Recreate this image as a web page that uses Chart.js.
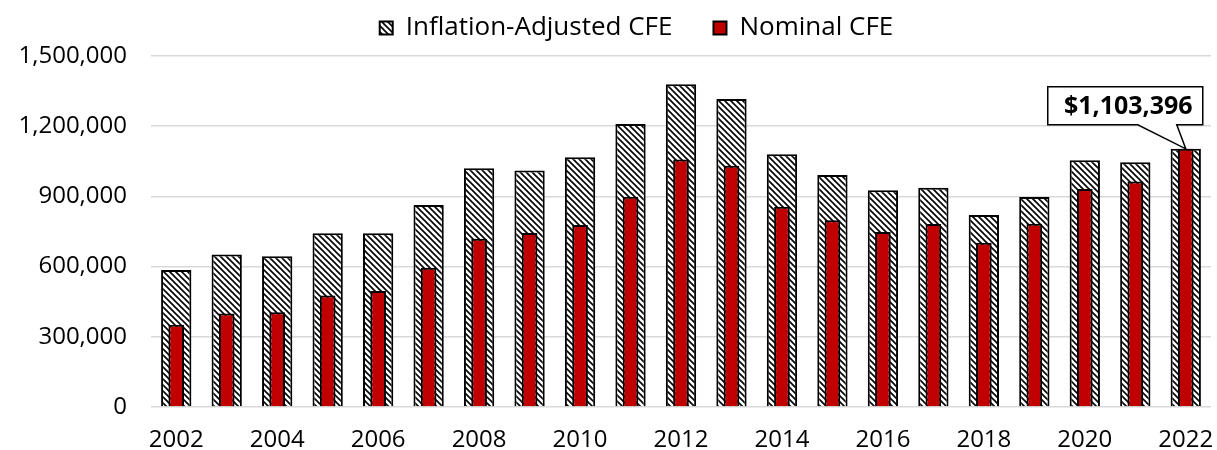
<!DOCTYPE html>
<html>
<head>
<meta charset="utf-8">
<script src="https://cdn.jsdelivr.net/npm/chart.js@4.4.1/dist/chart.umd.min.js"></script>
<style>
  html, body { margin: 0; padding: 0; background: #fff; }
  #wrap { width: 1217px; height: 450px; }
</style>
</head>
<body>
<div id="wrap"><canvas id="cfe" width="1217" height="450"></canvas></div>
<script>
const years = ['2002','2003','2004','2005','2006','2007','2008','2009','2010','2011','2012',
  '2013','2014','2015','2016','2017','2018','2019','2020','2021','2022'];
const adjustedCfe = [585000, 652000, 644000, 742000, 742000, 863000, 1020000, 1011000, 1067000, 1209000, 1379000,
  1316000, 1080000, 991000, 926000, 937000, 820000, 897000, 1054000, 1046000, 1103396];
const nominalCfe = [351000, 400000, 405000, 477000, 496000, 595000, 719000, 744000, 778000, 899000, 1058000,
  1031000, 856000, 798000, 748000, 782000, 702000, 783000, 932000, 964000, 1103396];
const yTicks = [0, 300000, 600000, 900000, 1200000, 1500000];

const FONT = "'Open Sans', 'DejaVu Sans', sans-serif";

// excel-ish "wide downward diagonal" fill
function hatch() {
  const n = 6;
  const c = document.createElement('canvas');
  c.width = n; c.height = n;
  const g = c.getContext('2d');
  g.fillStyle = '#fff';
  g.fillRect(0, 0, n, n);
  g.strokeStyle = '#000';
  g.lineWidth = 1.6;
  for (let k = -1; k <= 1; k++) {
    g.beginPath();
    g.moveTo(k * n - 1, -1);
    g.lineTo(k * n + n + 1, n + 1);
    g.stroke();
  }
  return g.createPattern(c, 'repeat');
}

// callout with the latest value above the last bar
const callout = {
  id: 'callout',
  afterDatasetsDraw(chart) {
    const i = years.length - 1;
    const bar = chart.getDatasetMeta(0).data[i];
    const x = bar.x, y = bar.y;
    const ctx = chart.ctx;
    const L = x - 138, R = x + 17, T = y - 62, B = y - 24;
    ctx.save();
    ctx.beginPath();
    ctx.moveTo(L, T);
    ctx.lineTo(R, T);
    ctx.lineTo(R, B);
    ctx.lineTo(x - 9, B);
    ctx.lineTo(x, y);
    ctx.lineTo(x - 48, B);
    ctx.lineTo(L, B);
    ctx.closePath();
    ctx.fillStyle = '#fff';
    ctx.fill();
    ctx.strokeStyle = '#000';
    ctx.lineWidth = 1.5;
    ctx.stroke();
    ctx.fillStyle = '#000';
    ctx.font = "bold 25px " + FONT;
    ctx.textAlign = 'center';
    ctx.textBaseline = 'middle';
    ctx.fillText('$' + adjustedCfe[i].toLocaleString('en-US'), (L + R) / 2 + 3, (T + B) / 2 + 1);
    ctx.restore();
  }
};

// fixed legend band height so the plot top lands where the reference has it,
// and nudge the legend right to sit where the reference has it
const legendBand = {
  id: 'legendBand',
  beforeInit(chart) {
    const fit = chart.legend.fit;
    chart.legend.fit = function () {
      fit.call(this);
      this.height = 82;
    };
  },
  afterLayout(chart) {
    chart.legend.left += 31;
    chart.legend.right += 31;
  }
};

new Chart(document.getElementById('cfe'), {
  type: 'bar',
  data: {
    labels: years,
    datasets: [
      {
        label: 'Inflation-Adjusted CFE',
        data: adjustedCfe,
        backgroundColor: hatch(),
        borderColor: '#000',
        borderWidth: 2,
        barPercentage: 0.6,
        categoryPercentage: 1,
        grouped: false,
        order: 2
      },
      {
        label: 'Nominal CFE',
        data: nominalCfe,
        backgroundColor: '#c00000',
        borderColor: '#000',
        borderWidth: 2,
        barPercentage: 0.31,
        categoryPercentage: 1,
        grouped: false,
        order: 1
      }
    ]
  },
  options: {
    responsive: false,
    animation: false,
    devicePixelRatio: 1,
    layout: { padding: { top: -26, left: 0, right: 6, bottom: 0 } },
    plugins: {
      legend: {
        position: 'top',
        labels: {
          color: '#000',
          font: { family: FONT, size: 26 },
          boxWidth: 13,
          boxHeight: 13,
          padding: 41,
          sort: (a, b) => a.datasetIndex - b.datasetIndex
        }
      },
      tooltip: { enabled: false }
    },
    scales: {
      x: {
        grid: { display: false, drawTicks: false },
        border: { display: false },
        ticks: {
          color: '#000',
          font: { family: FONT, size: 24 },
          autoSkip: false,
          maxRotation: 0,
          padding: 19,
          callback: (v, i) => (i % 2 === 0 ? years[i] : '')
        },
        afterFit: s => {
          s.height = 43;
          s.paddingLeft = 0;
          s.paddingRight = 0;
        }
      },
      y: {
        min: 0,
        max: 1500000,
        afterBuildTicks: s => { s.ticks = yTicks.map(v => ({ value: v })); },
        grid: { color: '#d9d9d9', lineWidth: 1.5, drawTicks: false },
        border: { display: false },
        ticks: {
          color: '#000',
          font: { family: FONT, size: 24 },
          padding: 24,
          callback: v => v.toLocaleString('en-US')
        },
        afterFit: s => { s.width = 151; }
      }
    }
  },
  plugins: [legendBand, callout]
});
</script>
</body>
</html>
